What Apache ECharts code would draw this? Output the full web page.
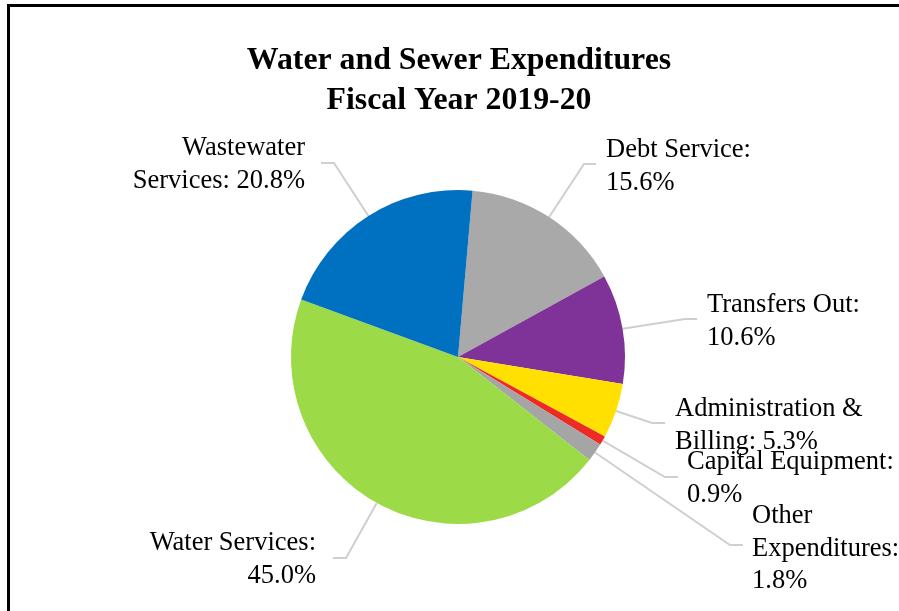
<!DOCTYPE html>
<html>
<head>
<meta charset="utf-8">
<script src="https://cdn.jsdelivr.net/npm/echarts@6/dist/echarts.min.js"></script>
<style>
  html, body { margin: 0; padding: 0; background: #ffffff; }
  #chart { width: 899px; height: 611px; }
</style>
</head>
<body>
<div id="chart"></div>
<script>
// Expenditure categories, clockwise from the top of the pie
const categories = [
  'Debt Service',
  'Transfers Out',
  'Administration & Billing',
  'Capital Equipment',
  'Other Expenditures',
  'Water Services',
  'Wastewater Services'
];
// Share of total expenditures, percent
const shares = [15.6, 10.6, 5.3, 0.9, 1.8, 45.0, 20.8];
// Words per label line (how each label wraps)
const wordsPerLine = [[2, 1], [2, 1], [2, 2], [2, 1], [1, 1, 1], [2, 1], [1, 2]];

const sliceColors = ['#A9A9A9', '#7F3297', '#FFE000', '#EE2A24', '#A5A5A5', '#9DDA47', '#0070C0'];

// Label placement: text anchor, elbow of the leader line and its end next to the text
const labelSpots = [
  { x: 606, y: 134, align: 'left',  elbow: [584, 164], end: [596, 164] },
  { x: 707, y: 289, align: 'left',  elbow: [685, 319], end: [697, 319] },
  { x: 675, y: 393, align: 'left',  elbow: [652, 423], end: [665, 423] },
  { x: 687, y: 446, align: 'left',  elbow: [665, 477], end: [678, 477] },
  { x: 752, y: 500, align: 'left',  elbow: [730, 545], end: [743, 545] },
  { x: 316, y: 527, align: 'right', elbow: [346, 558], end: [333, 558] },
  { x: 305, y: 132, align: 'right', elbow: [334, 163], end: [321, 163] }
];

function labelText(i) {
  const words = (categories[i] + ': ' + shares[i].toFixed(1) + '%').split(' ');
  const lines = [];
  let k = 0;
  wordsPerLine[i].forEach(function (n) {
    lines.push(words.slice(k, k + n).join(' '));
    k += n;
  });
  return lines.join('\n');
}

const chart = echarts.init(document.getElementById('chart'), null, { renderer: 'canvas' });

chart.setOption({
  backgroundColor: '#ffffff',
  animation: false,
  title: {
    text: 'Water and Sewer Expenditures\nFiscal Year 2019-20',
    left: 454,
    top: 36,
    textAlign: 'center',
    textStyle: {
      fontFamily: 'Liberation Serif',
      fontWeight: 'bold',
      fontSize: 31.8,
      lineHeight: 40,
      color: '#000000'
    }
  },
  graphic: [{
    type: 'rect',
    shape: { x: 8.5, y: 5.5, width: 1000, height: 800 },
    style: { fill: null, stroke: '#000000', lineWidth: 3 },
    silent: true
  }],
  series: [{
    type: 'pie',
    center: [458, 357],
    radius: 167,
    startAngle: 85,
    clockwise: true,
    avoidLabelOverlap: false,
    minShowLabelAngle: 0,
    data: categories.map(function (name, i) {
      return { name: name, value: shares[i], itemStyle: { color: sliceColors[i] } };
    }),
    itemStyle: { borderWidth: 0 },
    label: {
      show: true,
      position: 'outside',
      formatter: function (p) { return labelText(p.dataIndex); },
      fontFamily: 'Liberation Serif',
      fontSize: 26.5,
      lineHeight: 32.5,
      color: '#000000'
    },
    labelLine: {
      show: true,
      smooth: false,
      length: 20,
      length2: 10,
      lineStyle: { color: '#CFCFCF', width: 2 }
    },
    labelLayout: function (params) {
      const s = labelSpots[params.dataIndex];
      const start = params.labelLinePoints ? params.labelLinePoints[0] : s.elbow;
      return {
        x: s.x,
        y: s.y,
        align: s.align,
        verticalAlign: 'top',
        labelLinePoints: [start, s.elbow, s.end]
      };
    },
    emphasis: { disabled: true }
  }]
});
</script>
</body>
</html>
